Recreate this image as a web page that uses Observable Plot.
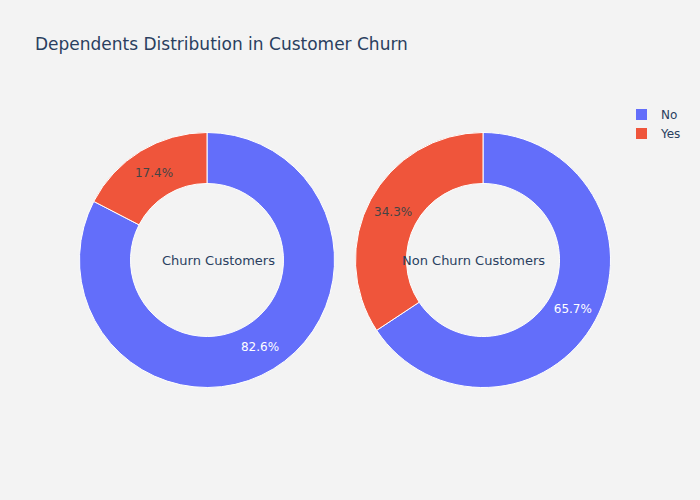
<!DOCTYPE html>
<html><head><meta charset="utf-8">
<script src="https://cdn.jsdelivr.net/npm/d3@7"></script>
<script src="https://cdn.jsdelivr.net/npm/@observablehq/plot@0.6"></script>
<style>
body{margin:0;background:#f3f3f3;}
#wrap{position:relative;width:700px;height:500px;background:#f3f3f3;font-family:"DejaVu Sans",sans-serif;overflow:hidden}
#chart{position:absolute;left:0;top:0}
#title{position:absolute;left:35px;top:36px;font-size:17px;line-height:17px;color:#2a3f5f;white-space:nowrap}
#legend{position:absolute;left:636px;top:105px;font-size:12px;color:#2a3f5f}
.item{display:flex;align-items:center;height:19px;white-space:nowrap}
.sw{width:11px;height:11px;margin-right:14px}
</style></head><body>
<div id="wrap"><div id="chart"></div><div id="title"></div><div id="legend"></div></div>
<script>
const title = "Dependents Distribution in Customer Churn";
const groups = ["Churn Customers", "Non Churn Customers"];
const labels = ["No", "Yes"];
const colors = ["#636efa", "#ef553b"];
const churnPct = [82.6, 17.4];
const nonChurnPct = [65.7, 34.3];

const slices = [];
labels.forEach((l, i) => slices.push({group: groups[0], label: l, value: churnPct[i]}));
labels.forEach((l, i) => slices.push({group: groups[1], label: l, value: nonChurnPct[i]}));

const insideText = {"No": "#ffffff", "Yes": "#444444"};

function donuts(index, scales, values, dims) {
  const g = d3.create("svg:g");
  const color = scales.color || d3.scaleOrdinal(labels, colors);
  const cy = (dims.marginTop + dims.height - dims.marginBottom) / 2;
  const bw = scales.x.bandwidth ? scales.x.bandwidth()
    : (dims.width - dims.marginLeft - dims.marginRight) / groups.length;
  const outer = bw * 0.462;
  const inner = outer * 0.6;
  const arc = d3.arc().innerRadius(inner).outerRadius(outer);
  const pie = d3.pie().sort(null).value(d => d.value);
  for (const grp of groups) {
    const cx = scales.x(grp) + bw / 2;
    const arcs = pie(slices.filter(d => d.group === grp));
    const gg = g.append("g").attr("transform", `translate(${cx},${cy})`);
    gg.selectAll("path").data(arcs).join("path")
      .attr("d", arc)
      .attr("fill", d => color(d.data.label))
      .attr("stroke", "#ffffff")
      .attr("stroke-width", 1);
    gg.selectAll("text").data(arcs).join("text")
      .attr("transform", d => `translate(${arc.centroid(d)})`)
      .attr("text-anchor", "middle")
      .attr("dy", "0.35em")
      .attr("font-size", 12)
      .attr("fill", d => insideText[d.data.label])
      .text(d => d.data.value.toFixed(1) + "%");
  }
  return g.node();
}

const plot = Plot.plot({
  width: 700,
  height: 500,
  marginTop: 20,
  marginBottom: 0,
  marginLeft: 69,
  marginRight: 79,
  style: {background: "transparent", fontFamily: "DejaVu Sans, sans-serif"},
  x: {type: "band", domain: groups, padding: 0, axis: null},
  color: {domain: labels, range: colors},
  marks: [
    donuts,
    Plot.text([groups[0]], {x: d => d, text: d => d, dx: 11, fontSize: 13, fill: "#2a3f5f"}),
    Plot.text([groups[1]], {x: d => d, text: d => d, dx: -10, fontSize: 13, fill: "#2a3f5f"})
  ]
});
document.getElementById("chart").appendChild(plot);
document.getElementById("title").textContent = title;

const cs = plot.scale("color");
const leg = document.getElementById("legend");
cs.domain.forEach((lab, i) => {
  const item = document.createElement("div");
  item.className = "item";
  const sw = document.createElement("div");
  sw.className = "sw";
  sw.style.background = cs.range[i];
  const tx = document.createElement("span");
  tx.textContent = lab;
  item.appendChild(sw);
  item.appendChild(tx);
  leg.appendChild(item);
});
</script>
</body></html>
